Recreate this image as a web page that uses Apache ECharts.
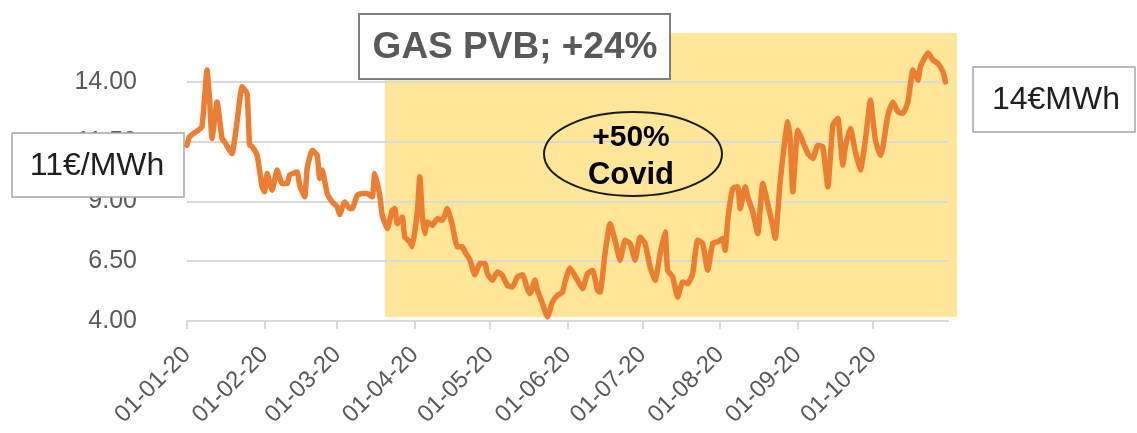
<!DOCTYPE html>
<html>
<head>
<meta charset="utf-8">
<script src="https://cdn.jsdelivr.net/npm/echarts@6/dist/echarts.min.js"></script>
<style>
  html, body { margin: 0; padding: 0; background: #fff; }
  #chart { width: 1137px; height: 433px; }
</style>
</head>
<body>
<div id="chart"></div>
<script>
// PVB gas price, 2020 (EUR/MWh)
const dates = [
  '2020-01-01', '2020-01-02', '2020-01-05', '2020-01-07', '2020-01-09', '2020-01-10', '2020-01-11',
  '2020-01-13', '2020-01-15', '2020-01-16', '2020-01-18', '2020-01-19', '2020-01-21', '2020-01-23',
  '2020-01-25', '2020-01-26', '2020-01-27', '2020-01-29', '2020-01-31',
  '2020-02-01', '2020-02-02', '2020-02-04', '2020-02-06', '2020-02-08', '2020-02-10', '2020-02-11',
  '2020-02-14', '2020-02-15', '2020-02-17', '2020-02-18', '2020-02-20', '2020-02-22', '2020-02-23',
  '2020-02-24', '2020-02-26', '2020-02-28',
  '2020-03-01', '2020-03-02', '2020-03-04', '2020-03-06', '2020-03-07', '2020-03-09', '2020-03-11',
  '2020-03-13', '2020-03-15', '2020-03-16', '2020-03-18', '2020-03-19', '2020-03-21', '2020-03-23',
  '2020-03-24', '2020-03-25', '2020-03-27', '2020-03-28', '2020-03-30', '2020-03-31',
  '2020-04-02', '2020-04-03', '2020-04-04', '2020-04-05', '2020-04-06', '2020-04-08', '2020-04-10',
  '2020-04-12', '2020-04-14', '2020-04-16', '2020-04-18', '2020-04-20', '2020-04-21', '2020-04-23',
  '2020-04-25', '2020-04-27', '2020-04-29', '2020-04-30',
  '2020-05-02', '2020-05-04', '2020-05-06', '2020-05-08', '2020-05-10', '2020-05-12', '2020-05-14',
  '2020-05-16', '2020-05-17', '2020-05-19', '2020-05-20', '2020-05-22', '2020-05-24', '2020-05-26',
  '2020-05-28', '2020-05-30', '2020-05-31',
  '2020-06-02', '2020-06-05', '2020-06-07', '2020-06-09', '2020-06-11', '2020-06-13', '2020-06-14',
  '2020-06-16', '2020-06-18', '2020-06-20', '2020-06-22', '2020-06-24', '2020-06-26', '2020-06-28',
  '2020-06-30',
  '2020-07-02', '2020-07-04', '2020-07-06', '2020-07-08', '2020-07-10', '2020-07-11', '2020-07-13',
  '2020-07-15', '2020-07-17', '2020-07-19', '2020-07-21', '2020-07-23', '2020-07-25', '2020-07-27',
  '2020-07-29', '2020-07-31',
  '2020-08-02', '2020-08-03', '2020-08-04', '2020-08-06', '2020-08-08', '2020-08-09', '2020-08-11',
  '2020-08-12', '2020-08-14', '2020-08-16', '2020-08-18', '2020-08-20', '2020-08-22', '2020-08-23',
  '2020-08-25', '2020-08-28', '2020-08-29', '2020-08-30',
  '2020-09-01', '2020-09-03', '2020-09-05', '2020-09-07', '2020-09-09', '2020-09-11', '2020-09-13',
  '2020-09-15', '2020-09-17', '2020-09-18', '2020-09-19', '2020-09-20', '2020-09-22', '2020-09-24',
  '2020-09-26', '2020-09-28', '2020-09-30',
  '2020-10-02', '2020-10-04', '2020-10-05', '2020-10-07', '2020-10-09', '2020-10-11', '2020-10-13',
  '2020-10-15', '2020-10-17', '2020-10-19', '2020-10-20', '2020-10-23', '2020-10-25', '2020-10-27',
  '2020-10-29', '2020-10-30'
];

const prices = [
  11.35, 11.70, 11.94, 12.12, 14.49, 13.30, 11.63,
  13.16, 11.63, 11.49, 11.14, 11.00, 12.33, 13.79,
  13.51, 11.35, 11.30, 10.93, 9.61,
  9.40, 10.17, 9.47, 10.31, 9.75, 9.75, 10.10,
  10.23, 9.68, 9.19, 10.38, 11.14, 10.93, 9.96,
  10.31, 9.33, 8.98,
  8.77, 8.45, 8.98, 8.70, 8.70, 9.26, 9.33,
  9.33, 9.19, 10.17, 9.26, 8.42, 7.87, 8.63,
  8.70, 8.07, 8.35, 7.51, 7.31, 7.10,
  8.56, 10.03, 8.42, 7.66, 8.14, 8.00, 8.28,
  8.21, 8.70, 8.00, 7.10, 7.10, 6.89, 6.56,
  5.93, 6.40, 6.40, 5.98,
  5.70, 6.05, 5.91, 5.49, 5.42, 5.84, 5.93,
  5.35, 5.14, 5.70, 5.28, 4.73, 4.17, 4.80,
  5.07, 5.21, 5.63,
  6.22, 5.70, 5.35, 5.98, 6.12, 5.28, 5.21,
  6.82, 8.07, 7.38, 6.54, 7.38, 7.24, 6.54,
  7.51,
  7.24, 6.26, 5.70, 6.82, 7.72, 6.12, 5.84,
  5.00, 5.63, 5.56, 5.98, 7.38, 7.24, 6.12,
  7.24, 7.31,
  7.45, 6.96, 8.21, 9.54, 9.61, 8.70, 9.61,
  9.19, 8.56, 7.66, 9.75, 8.91, 7.94, 7.45,
  9.89, 12.33, 11.50, 9.40,
  11.98, 11.50, 11.00, 10.79, 11.35, 11.28, 9.61,
  12.19, 12.47, 11.50, 10.52, 11.28, 12.05, 11.07,
  10.31, 11.56, 13.23,
  11.56, 10.93, 11.28, 12.61, 13.16, 12.75, 12.68,
  13.16, 14.49, 14.07, 14.63, 15.21, 14.91, 14.77,
  14.42, 14.00
];

const axisStart = '2020-01-01';
const axisEnd = '2020-10-31';
const yMin = 4;
const yMax = 16;
const yStep = 2.5;

const seriesData = dates.map((d, i) => [d, prices[i]]);

const chart = echarts.init(document.getElementById('chart'));

const labelFont = '"Liberation Sans", Arial, sans-serif';

const option = {
  animation: false,
  backgroundColor: '#ffffff',
  grid: {
    left: 187,
    right: 189,
    top: 34,
    bottom: 112
  },
  xAxis: {
    type: 'time',
    min: axisStart,
    max: axisEnd,
    splitNumber: 10,
    minInterval: 28 * 86400000,
    maxInterval: 31 * 86400000,
    z: 2,
    axisLine: { lineStyle: { color: '#D9D9D9', width: 2 } },
    axisTick: { show: true, length: 8, lineStyle: { color: '#D9D9D9', width: 2 } },
    splitLine: { show: false },
    axisLabel: {
      rotate: 45,
      margin: 30,
      fontSize: 24,
      fontFamily: labelFont,
      color: '#595959',
      hideOverlap: false,
      formatter: '{dd}-{MM}-{yy}'
    }
  },
  yAxis: {
    type: 'value',
    min: yMin,
    max: yMax,
    interval: yStep,
    z: 2,
    axisLine: { show: false },
    axisTick: { show: false },
    splitLine: {
      show: true,
      showMaxLine: false,
      lineStyle: { color: '#D9D9D9', width: 2 }
    },
    axisLabel: {
      showMaxLabel: false,
      margin: 50,
      fontSize: 25,
      fontFamily: labelFont,
      color: '#595959',
      formatter: v => v.toFixed(2)
    }
  },
  series: [
    {
      type: 'line',
      z: 3,
      data: seriesData,
      showSymbol: false,
      smooth: 0.15,
      lineStyle: { color: '#ED7D31', width: 5.5, join: 'round', cap: 'round' }
    }
  ],
  graphic: [
    // covid shaded period
    {
      type: 'rect',
      z: -10,
      silent: true,
      shape: { x: 385, y: 33, width: 572, height: 284 },
      style: { fill: '#FFE699' }
    },
    // title box
    {
      type: 'rect',
      z: 50,
      shape: { x: 359, y: 14, width: 311, height: 65 },
      style: { fill: '#ffffff', stroke: '#7F7F7F', lineWidth: 2 }
    },
    {
      type: 'text',
      z: 51,
      x: 515,
      y: 48,
      style: {
        text: 'GAS PVB; +24%',
        font: 'bold 37px ' + labelFont,
        fill: '#595959',
        align: 'center',
        verticalAlign: 'middle'
      }
    },
    // start value box
    {
      type: 'rect',
      z: 50,
      shape: { x: 12, y: 133, width: 172, height: 64 },
      style: { fill: '#ffffff', stroke: '#A6A6A6', lineWidth: 1.5 }
    },
    {
      type: 'text',
      z: 51,
      x: 97,
      y: 166,
      style: {
        text: '11€/MWh',
        font: '32px ' + labelFont,
        fill: '#1F1F1F',
        align: 'center',
        verticalAlign: 'middle'
      }
    },
    // end value box
    {
      type: 'rect',
      z: 50,
      shape: { x: 973, y: 67, width: 162, height: 65 },
      style: { fill: '#ffffff', stroke: '#A6A6A6', lineWidth: 1.5 }
    },
    {
      type: 'text',
      z: 51,
      x: 1056,
      y: 100,
      style: {
        text: '14€MWh',
        font: '32px ' + labelFont,
        fill: '#1F1F1F',
        align: 'center',
        verticalAlign: 'middle'
      }
    },
    // covid ellipse
    {
      type: 'ellipse',
      z: 50,
      shape: { cx: 633, cy: 154, rx: 89, ry: 42 },
      style: { fill: null, stroke: '#1A1A1A', lineWidth: 2 }
    },
    {
      type: 'text',
      z: 51,
      x: 631,
      y: 138,
      style: {
        text: '+50%',
        font: 'bold 30px ' + labelFont,
        fill: '#000000',
        align: 'center',
        verticalAlign: 'middle'
      }
    },
    {
      type: 'text',
      z: 51,
      x: 631,
      y: 175,
      style: {
        text: 'Covid',
        font: 'bold 31px ' + labelFont,
        fill: '#000000',
        align: 'center',
        verticalAlign: 'middle'
      }
    }
  ]
};

chart.setOption(option);
</script>
</body>
</html>
